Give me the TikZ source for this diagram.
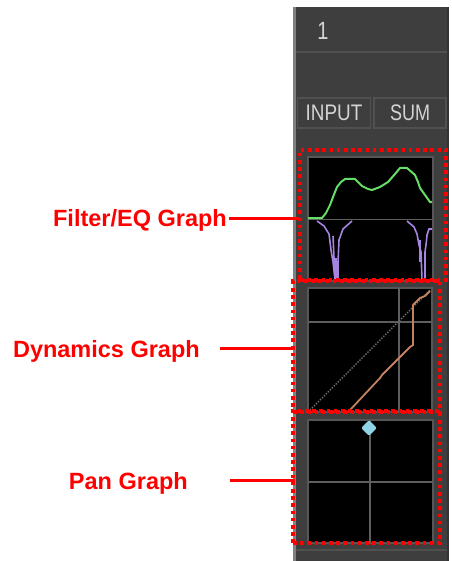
\documentclass[tikz,border=0pt]{standalone}
\usepackage{fontspec}
\setmainfont{Liberation Sans}
\usetikzlibrary{shapes.geometric}

\definecolor{stripbg}{HTML}{3E3E3E}
\definecolor{stripedge}{HTML}{808080}
\definecolor{keyedge}{HTML}{505050}
\definecolor{keytext}{HTML}{D4D4D4}
\definecolor{framegrey}{HTML}{565656}
\definecolor{gridgrey}{HTML}{5E5E5E}
\definecolor{eqgreen}{HTML}{66DD66}
\definecolor{eqpurple}{HTML}{A585E0}
\definecolor{dynorange}{HTML}{C2825F}
\definecolor{panblue}{HTML}{8FD3E6}

\tikzset{
  keybox/.style={rectangle, draw=keyedge, line width=1.2pt, fill=stripbg, text=keytext,
    font=\fontsize{22.5}{24}\selectfont, inner sep=0pt},
  graphbox/.style={fill=black, draw=framegrey, line width=2.5pt},
  gridln/.style={draw=gridgrey, line width=1.6pt},
  dotbox/.style={rectangle, draw=red, line width=3.5pt, dash pattern=on 3.6pt off 3.6pt, inner sep=0pt},
  calllbl/.style={text=red, font=\bfseries\fontsize{23.5}{28}\selectfont, inner sep=0pt},
  callout/.style={draw=red, line width=3pt}
}

\begin{document}
\begin{tikzpicture}[x=1pt, y=-1pt]
\useasboundingbox (0,0) rectangle (451,561);

% channel strip
\fill[stripbg] (293,7) rectangle (449,561);
\fill[stripedge] (293,7) rectangle (296,561);
\fill[black!80] (447,7) rectangle (449,561);
\draw[keyedge, line width=1.5pt] (296,52) -- (447,52);
\draw[keyedge, line width=1.5pt] (296,550) -- (447,550);
\node[text=keytext, font=\fontsize{25}{27}\selectfont] (chan) at (323,31) {\scalebox{0.8}[1]{1}};
\node[keybox, minimum width=73pt, minimum height=30pt] (inp) at (334,113) {\scalebox{0.84}[1]{INPUT}};
\node[keybox, minimum width=72pt, minimum height=30pt] (sum) at (410,113) {\scalebox{0.8}[1]{SUM}};

% filter/eq graph
\draw[graphbox] (308,157) rectangle (433,281);
\draw[gridln] (308,219.5) -- (433,219.5);
\draw[eqgreen, line width=2pt] (308,218) -- (322,218) -- (326,213) -- (330,205) -- (333,197)
  -- (337,187) -- (341,182) -- (345,179) -- (355,179) -- (362,186) -- (368,189) -- (372,190)
  -- (380,187) -- (388,182) -- (395,174) -- (400,168) -- (407,168) -- (415,175) -- (418,182)
  -- (420,188) -- (425,195) -- (430,202) -- (432,202);
\draw[eqpurple, line width=1.6pt] (317,221) -- (324,226) -- (329,234) -- (331,250) -- (333,262)
  -- (335,280);
\draw[eqpurple, line width=1.6pt] (338,280) -- (338,262) -- (339,240) -- (343,229) -- (352,221);
\draw[eqpurple, line width=1.6pt] (333,236) -- (334,258);
\fill[eqpurple] (333,258) -- (337,258) -- (337.5,280) -- (335,280) -- cycle;
\draw[eqpurple, line width=1.6pt] (407,221) -- (414,227) -- (417,234) -- (419,245) -- (421,252)
  -- (422,280);
\draw[eqpurple, line width=1.6pt] (425,280) -- (425,252) -- (426,245) -- (427,235) -- (429,229)
  -- (432,229);
\draw[eqpurple, line width=1.6pt] (420,240) -- (420,262);

% dynamics graph
\draw[graphbox] (308,288) rectangle (432,412);
\draw[gridln] (399,288) -- (399,412);
\draw[gridln] (308,322) -- (432,322);
\draw[gridgrey!90!white, line width=1.4pt, dash pattern=on 1.4pt off 1.4pt] (310,410) -- (430,290);
\draw[dynorange, line width=1.8pt] (350,410) -- (380,378) -- (382,375) -- (410,347) -- (413,345)
  -- (413,305) -- (420,298) -- (425,296) -- (430,291);

% pan graph
\draw[graphbox] (308,420) rectangle (433,543);
\draw[gridln] (370,420) -- (370,543);
\draw[gridln] (308,482) -- (433,482);
\node[diamond, fill=panblue, minimum size=16pt, inner sep=0pt, rounded corners=2pt] (panpt) at (369,428) {};

% marked areas
\node[dotbox, minimum width=146pt, minimum height=130pt] (filt) at (373,215) {};
\node[dotbox, minimum width=147pt, minimum height=131pt] (dyn) at (366.5,346.5) {};
\node[dotbox, minimum width=147pt, minimum height=132pt] (pan) at (366.5,477) {};

% callouts
\node[calllbl, anchor=base east] (fltlbl) at (227,226) {Filter/EQ Graph};
\node[calllbl, anchor=base east] (dynlbl) at (200,357) {Dynamics Graph};
\node[calllbl, anchor=base east] (panlbl) at (188,489) {Pan Graph};
\coordinate (flttail) at (229,218);
\coordinate (dyntail) at (220,348);
\coordinate (pantail) at (230,480);
\draw[callout, shorten >=-1pt] (flttail) -- (filt.west |- flttail);
\draw[callout, shorten >=-4pt] (dyntail) -- (dyn.west |- dyntail);
\draw[callout, shorten >=-4pt] (pantail) -- (pan.west |- pantail);
\end{tikzpicture}
\end{document}
